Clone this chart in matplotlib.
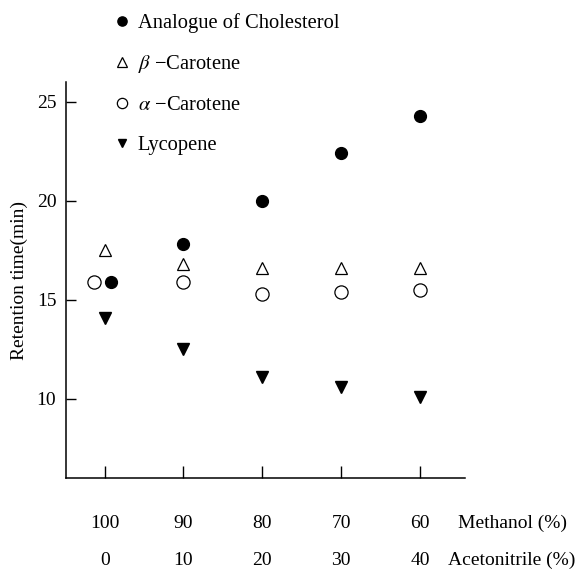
import numpy as np
import matplotlib
matplotlib.use("Agg")
import matplotlib.pyplot as plt

methanol = [100, 90, 80, 70, 60]
acetonitrile = [0, 10, 20, 30, 40]

cholesterol = [15.9, 17.8, 20.0, 22.4, 24.3]
beta_carotene = [17.5, 16.8, 16.6, 16.6, 16.6]
alpha_carotene = [15.9, 15.9, 15.3, 15.4, 15.5]
lycopene = [14.1, 12.5, 11.1, 10.6, 10.1]

plt.rcParams['font.family'] = ['Liberation Serif', 'DejaVu Serif']
plt.rcParams['mathtext.fontset'] = 'stix'

fig = plt.figure(figsize=(5.83, 5.69), dpi=100)
ax = fig.add_axes([0.1132, 0.1599, 0.6844, 0.696])

x = np.arange(len(methanol), dtype=float)
# first group is crowded, the reference nudges two markers sideways
x_chol = x.copy()
x_chol[0] += 0.08
x_alpha = x.copy()
x_alpha[0] -= 0.13

ax.plot(x_chol, cholesterol, "o", color="black", ms=8.5, ls="none", label="Analogue of Cholesterol")
ax.plot(x, beta_carotene, "^", mfc="white", mec="black", mew=0.9, ms=8.5, ls="none",
        label=r"$\it{\beta}$ −Carotene")
ax.plot(x_alpha, alpha_carotene, "o", mfc="white", mec="black", mew=0.9, ms=9.5, ls="none",
        label=r"$\it{\alpha}$ −Carotene")
ax.plot(x, lycopene, "v", color="black", ms=8, ls="none", label="Lycopene")

ax.set_xlim(-0.49, 4.57)
ax.set_ylim(6, 26)
ax.set_yticks([10, 15, 20, 25])
ax.set_xticks(x)
ax.set_xticklabels([])
ax.tick_params(axis="y", direction="in", length=7, width=1, labelsize=14, pad=7)
ax.tick_params(axis="x", direction="in", length=9, width=1)
for s in ["top", "right"]:
    ax.spines[s].set_visible(False)
for s in ["left", "bottom"]:
    ax.spines[s].set_linewidth(1.1)

ax.set_ylabel("Retention time(min)", fontsize=14, labelpad=6)

for i in range(len(methanol)):
    ax.annotate(str(methanol[i]), xy=(x[i], 0), xycoords=("data", "axes fraction"),
                xytext=(0, -45), textcoords="offset pixels", ha="center", va="center", fontsize=14)
    ax.annotate(str(acetonitrile[i]), xy=(x[i], 0), xycoords=("data", "axes fraction"),
                xytext=(0, -82), textcoords="offset pixels", ha="center", va="center", fontsize=14)
ax.annotate("Methanol (%)", xy=(1, 0), xycoords="axes fraction", xytext=(-7, -45),
            textcoords="offset pixels", ha="left", va="center", fontsize=14)
ax.annotate("Acetonitrile (%)", xy=(1, 0), xycoords="axes fraction", xytext=(-17, -82),
            textcoords="offset pixels", ha="left", va="center", fontsize=14)

ax.legend(loc="upper left", bbox_to_anchor=(117 / 583, 1 - 13 / 569), bbox_transform=fig.transFigure,
          frameon=False, fontsize=14.8, handlelength=0.5, handletextpad=0.5, labelspacing=1.0,
          markerscale=0.78, borderpad=0, borderaxespad=0)

fig.savefig("out.png", dpi=100)
